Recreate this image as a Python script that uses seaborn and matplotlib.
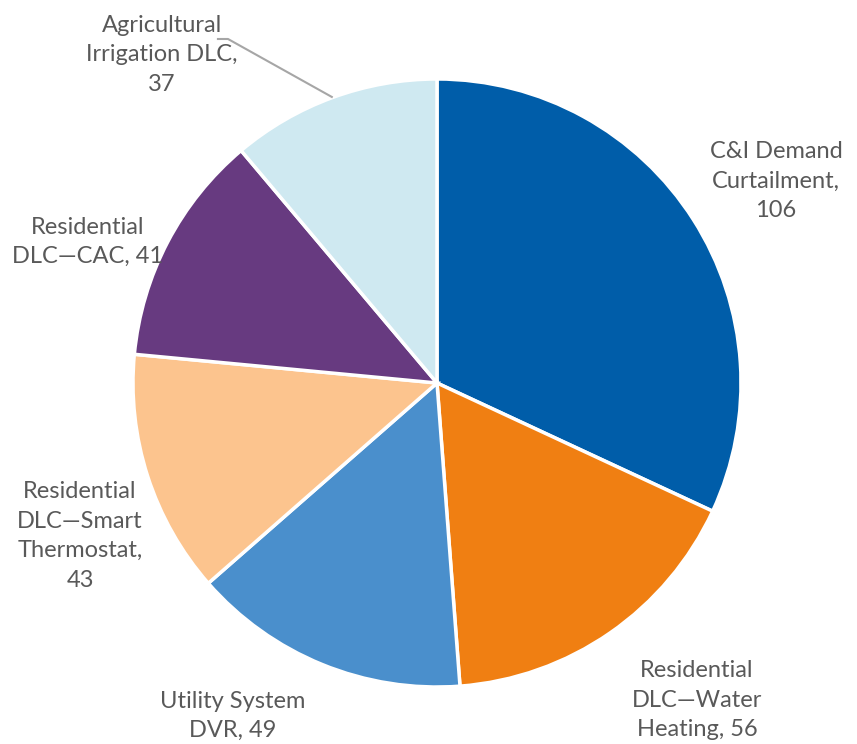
import matplotlib
matplotlib.use("Agg")
import matplotlib.pyplot as plt
import seaborn as sns
import numpy as np

# Program capacity by category
categories = [
    "C&I Demand\nCurtailment,",
    "Residential\nDLC\u2014Water\nHeating,",
    "Utility System\nDVR,",
    "Residential\nDLC\u2014Smart\nThermostat,",
    "Residential\nDLC\u2014CAC,",
    "Agricultural\nIrrigation DLC,",
]
values = [106, 56, 49, 43, 41, 37]
colors = ["#005DA9", "#F07F12", "#4A8FCC", "#FCC48E", "#673A80", "#CFE9F1"]

# how each label joins its value: on the last text line or on a new line
value_on_new_line = [True, False, False, True, False, True]
# label anchors (centre of text block), in pie-radius units
label_xy = [(1.115, 0.664), (0.855, -1.043), (-0.671, -1.095),
            (-1.174, -0.503), (-1.148, 0.464), (-0.905, 1.079)]

sns.set_theme(style="white")
plt.rcParams["font.family"] = ["Lato", "DejaVu Sans"]

W, H = 857, 744
fig = plt.figure(figsize=(W / 100, H / 100), dpi=100)
ax = fig.add_axes([0, 0, 1, 1])

cx, cy, R = 437, 383, 304
ax.pie(values, colors=colors, startangle=90, counterclock=False, radius=1.0,
       wedgeprops=dict(edgecolor="white", linewidth=2.5))
ax.set_xlim(-cx / R, (W - cx) / R)
ax.set_ylim(-(H - cy) / R, cy / R)
ax.set_aspect("equal")
ax.axis("off")

for cat, val, nl, (lx, ly) in zip(categories, values, value_on_new_line, label_xy):
    text = f"{cat}\n{val}" if nl else f"{cat} {val}"
    ax.text(lx, ly, text, ha="center", va="center", fontsize=17,
            color="#595959", linespacing=1.5)

# leader line for the small top-left slice
total = sum(values)
start = 90 - 360 * sum(values[:-1]) / total
end = 90 - 360
mid = np.deg2rad((start + end) / 2)
ex, ey = np.cos(mid), np.sin(mid)
ax.plot([ex, -0.6875, -0.724], [ey, 1.1316, 1.1316], color="#A6A6A6", lw=1.5,
        solid_capstyle="butt")

fig.savefig("out.png", dpi=100)
